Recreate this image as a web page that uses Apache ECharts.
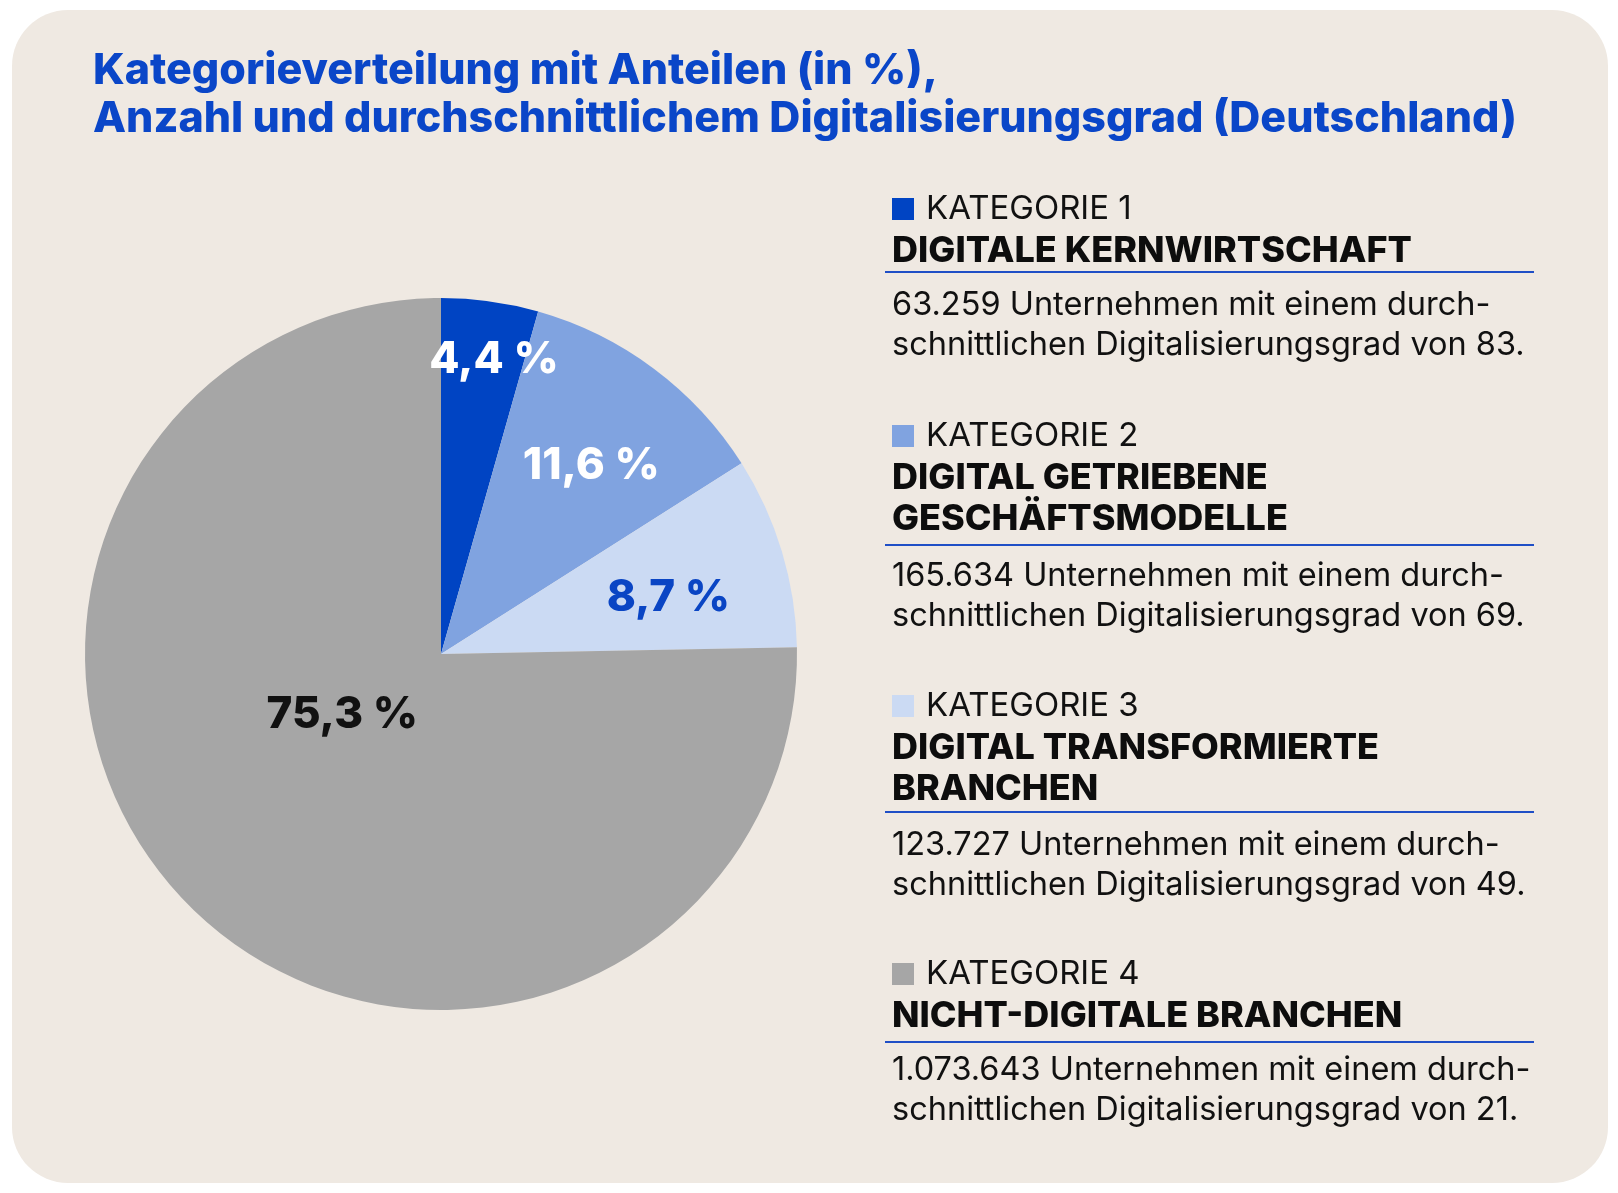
<!DOCTYPE html>
<html lang="de">
<head>
<meta charset="UTF-8">
<title>Kategorieverteilung</title>
<script src="https://cdn.jsdelivr.net/npm/echarts@6.0.0/dist/echarts.min.js"></script>
<style>
  html, body { margin: 0; padding: 0; background: #ffffff; }
  #main { width: 1618px; height: 1193px; }
</style>
</head>
<body>
<div id="main"></div>
<script type="text/javascript">
  // Daten
  var kategorien = ['KATEGORIE 1', 'KATEGORIE 2', 'KATEGORIE 3', 'KATEGORIE 4'];
  var namen = [
    ['DIGITALE KERNWIRTSCHAFT'],
    ['DIGITAL GETRIEBENE', 'GESCHÄFTSMODELLE'],
    ['DIGITAL TRANSFORMIERTE', 'BRANCHEN'],
    ['NICHT-DIGITALE BRANCHEN']
  ];
  var anteile = [4.4, 11.6, 8.7, 75.3];
  var anzahl = [63259, 165634, 123727, 1073643];
  var digiGrad = [83, 69, 49, 21];

  var farben = ['#0044c3', '#80a3e0', '#cbdaf3', '#a6a6a6'];
  var labelFarben = ['#ffffff', '#ffffff', '#0a45c4', '#111111'];
  // Verschiebung der Prozent-Labels gegenueber der Standardposition "inside"
  var labelVersatz = [[28, -115], [42, -43], [54, -4], [28, -68]];

  var myChart = echarts.init(document.getElementById('main'));

  function tausend(n) {
    return String(n).replace(/\B(?=(\d{3})+(?!\d))/g, '.');
  }

  var font = 'Inter, "Liberation Sans", sans-serif';
  var graphic = [{
    type: 'rect',
    z: -10,
    shape: { x: 12, y: 10, width: 1596, height: 1173, r: 56 },
    style: { fill: '#efe9e2' }
  }];

  // rechte Spalte: Zeilenpositionen
  var katY = [209, 436, 706, 974];
  var linieY = [272, 545, 812, 1042];
  var textY = [305, 576, 845, 1070];
  var links = 892;
  for (var i = 0; i < kategorien.length; i++) {
    var y = katY[i];
    graphic.push({
      type: 'rect',
      shape: { x: links, y: y - 11, width: 22, height: 22 },
      style: { fill: farben[i] }
    });
    graphic.push({
      type: 'text',
      style: { text: kategorien[i], x: 926, y: y, font: '400 33px ' + font, fill: '#111', verticalAlign: 'middle' }
    });
    for (var j = 0; j < namen[i].length; j++) {
      graphic.push({
        type: 'text',
        style: { text: namen[i][j], x: links, y: y + 42 + j * 41, font: '800 36px ' + font, fill: '#0d0d0d', verticalAlign: 'middle' }
      });
    }
    var ry = linieY[i];
    graphic.push({
      type: 'line',
      shape: { x1: 885, y1: ry, x2: 1534, y2: ry },
      style: { stroke: '#1f4fc6', lineWidth: 2 }
    });
    var zeilen = [
      tausend(anzahl[i]) + ' Unternehmen mit einem durch-',
      'schnittlichen Digitalisierungsgrad von ' + digiGrad[i] + '.'
    ];
    for (var k = 0; k < zeilen.length; k++) {
      graphic.push({
        type: 'text',
        style: { text: zeilen[k], x: links, y: textY[i] + k * 40, font: '400 32.5px ' + font, fill: '#111', verticalAlign: 'middle' }
      });
    }
  }

  var option = {
    animation: false,
    title: {
      text: 'Kategorieverteilung mit Anteilen (in %),\nAnzahl und durchschnittlichem Digitalisierungsgrad (Deutschland)',
      left: 88,
      top: 42,
      textStyle: {
        color: '#0a46c8',
        fontFamily: 'Inter',
        fontWeight: 800,
        fontSize: 43,
        lineHeight: 48
      }
    },
    graphic: graphic,
    series: [{
      type: 'pie',
      center: [441, 654],
      radius: 356,
      startAngle: 90,
      clockwise: true,
      silent: true,
      label: {
        show: true,
        position: 'inside',
        fontFamily: 'Inter',
        fontWeight: 800,
        fontSize: 44,
        formatter: function (p) {
          return p.value.toFixed(1).replace('.', ',') + ' %';
        }
      },
      labelLine: { show: false },
      itemStyle: { borderWidth: 0 },
      data: anteile.map(function (v, i) {
        return {
          name: kategorien[i],
          value: v,
          itemStyle: { color: farben[i] },
          label: { color: labelFarben[i], offset: labelVersatz[i] }
        };
      })
    }]
  };

  myChart.setOption(option);

  window.onresize = function () {
    myChart.resize();
  };
</script>
</body>
</html>
